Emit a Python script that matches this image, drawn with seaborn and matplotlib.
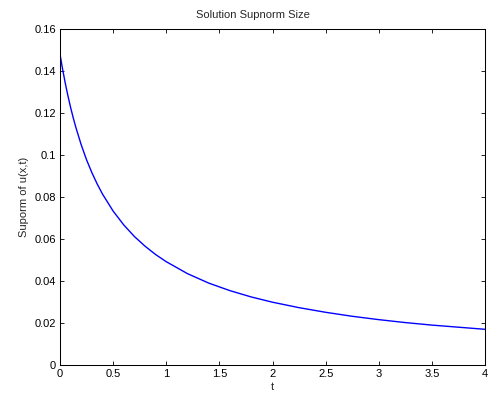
import matplotlib
matplotlib.use('Agg')
import matplotlib.pyplot as plt
import seaborn as sns
import pandas as pd

# values (smoothed by eye)
t_vals = [0.0, 0.025, 0.05, 0.075, 0.1, 0.125, 0.15, 0.2, 0.25, 0.3, 0.35, 0.4,
          0.5, 0.6, 0.7, 0.8, 0.9, 1.0, 1.2, 1.4, 1.6, 1.8, 2.0, 2.25, 2.5,
          2.75, 3.0, 3.25, 3.5, 3.75, 4.0]
supnorm = [0.1480, 0.1407, 0.1341, 0.1281, 0.1226, 0.1176, 0.1130, 0.1048, 0.0977,
           0.0916, 0.0862, 0.0814, 0.0733, 0.0667, 0.0612, 0.0566, 0.0526, 0.0492,
           0.0435, 0.0390, 0.0354, 0.0324, 0.0299, 0.0273, 0.0251, 0.0232, 0.0216,
           0.0202, 0.0190, 0.0180, 0.0170]

x_ticks = [0, 0.5, 1, 1.5, 2, 2.5, 3, 3.5, 4]
x_tick_labels = ['0', '0.5', '1', '1.5', '2', '2.5', '3', '3.5', '4']
y_ticks = [0, 0.02, 0.04, 0.06, 0.08, 0.1, 0.12, 0.14, 0.16]
y_tick_labels = ['0', '0.02', '0.04', '0.06', '0.08', '0.1', '0.12', '0.14', '0.16']

df = pd.DataFrame({'t': t_vals, 'u': supnorm})

sns.set_style('white')
plt.rcParams['font.family'] = ['Liberation Sans', 'DejaVu Sans']
plt.rcParams['font.size'] = 8

fig = plt.figure(figsize=(4.88, 4.01), dpi=100)
ax = fig.add_axes([60 / 488, 1 - 365 / 401, 425 / 488, 336 / 401])

sns.lineplot(data=df, x='t', y='u', ax=ax, color='#0000ff', linewidth=1.0)

ax.set_xlim(0, 4)
ax.set_ylim(0, 0.16)
ax.set_xticks(x_ticks)
ax.set_xticklabels(x_tick_labels)
ax.set_yticks(y_ticks)
ax.set_yticklabels(y_tick_labels)
ax.tick_params(direction='in', length=3, width=0.6, top=True, right=True,
               bottom=True, left=True, labelsize=8, colors='black', pad=3)
for s in ax.spines.values():
    s.set_visible(True)
    s.set_color('black')
    s.set_linewidth(0.75)

ax.set_xlabel('t', fontsize=8, labelpad=2)
ax.set_ylabel('Suporm of u(x,t)', fontsize=8, labelpad=4)
ax.set_title('Solution Supnorm Size', fontsize=8, x=0.453, pad=8)

fig.savefig('out.png', dpi=100)
